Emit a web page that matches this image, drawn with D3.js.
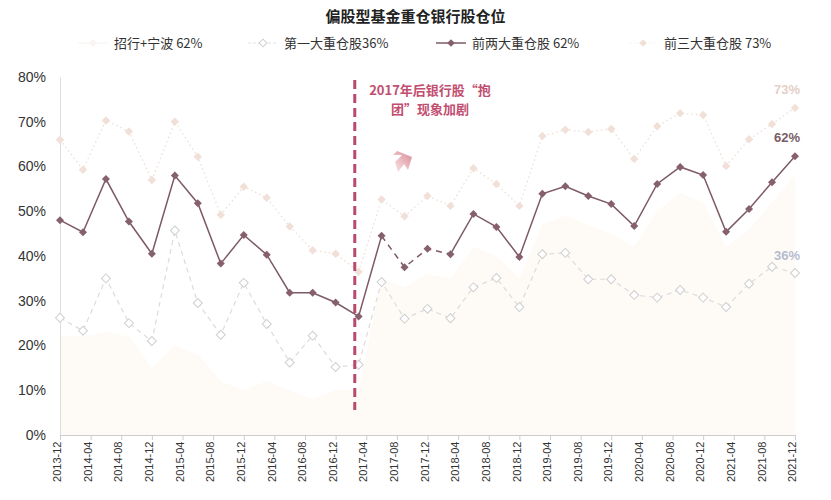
<!DOCTYPE html>
<html><head><meta charset="utf-8">
<script src="https://cdn.jsdelivr.net/npm/d3@7"></script>
<style>body{margin:0;background:#fff;font-family:"Noto Sans CJK SC","Liberation Sans",sans-serif}</style>
</head><body><svg id="chart" width="831" height="500"></svg>
<script>
// quarterly data, 2013-12 .. 2021-12
const months = d3.range(0, 97, 3);
const tickMonths = d3.range(0, 97, 4);
const cmbNingbo = [22,22,23,22,15,20,18,12,10,12,10,8,10,10,35,33,36,35,42,40,35,47,49,47,45,42,50,54,52,42,46,52,58];
const top1 = [26.2,23.3,35,25,21,45.7,29.5,22.4,34,24.8,16.2,22.2,15.2,15.7,34.2,26,28.2,26.1,33,35.1,28.6,40.4,40.7,34.8,34.8,31.3,30.7,32.4,30.7,28.6,33.8,37.6,36.2];
const top2 = [48,45.3,57.2,47.7,40.5,58,51.8,38.3,44.7,40.3,31.8,31.8,29.6,26.5,44.5,37.5,41.6,40.4,49.4,46.5,39.8,53.9,55.6,53.4,51.6,46.7,56.1,59.9,58.1,45.4,50.5,56.5,62.3];
const top3 = [66,59.3,70.3,67.8,57,70,62.2,49.2,55.5,53,46.6,41.3,40.5,36.5,52.6,48.9,53.4,51.2,59.6,56.1,51.2,66.8,68.2,67.7,68.4,61.7,69,71.9,71.5,60.1,66.1,69.5,73.1];
const legendNames = ['招行+宁波   62%', '第一大重仓股36%', '前两大重仓股 62%', '前三大重仓股 73%'];

const svg = d3.select('#chart');
const margin = {top: 77, left: 60, right: 36, bottom: 65};
const W = 831, H = 500;
const x = d3.scaleLinear().domain([0, 96]).range([margin.left, W - margin.right]);
const y = d3.scaleLinear().domain([0, 80]).range([H - margin.bottom, margin.top]);
const label = m => { const d = new Date(2013, 11 + m, 1); return d3.timeFormat('%Y-%m')(d); };
const data = months.map((m, i) => ({m, a: cmbNingbo[i], b: top1[i], c: top2[i], d: top3[i]}));

svg.append('text').attr('x', W / 2).attr('y', 22).attr('text-anchor', 'middle')
  .attr('font-size', 15).attr('font-weight', 'bold').attr('fill', '#222').text('偏股型基金重仓银行股仓位');

// area
svg.append('path').datum(data)
  .attr('d', d3.area().x(d => x(d.m)).y0(y(0)).y1(d => y(d.a)))
  .attr('fill', '#fefaf6');

// axes
const yAxis = svg.append('g').attr('transform', `translate(${margin.left},0)`)
  .call(d3.axisLeft(y).tickValues(d3.range(0, 81, 10)).tickFormat(d => d + '%').tickSize(0).tickPadding(14));
yAxis.select('.domain').attr('stroke', '#ddd');
yAxis.selectAll('text').attr('font-size', 14).attr('fill', '#333').attr('font-family', 'Liberation Sans');

const xAxis = svg.append('g').attr('transform', `translate(0,${y(0)})`)
  .call(d3.axisBottom(x).tickValues(tickMonths).tickFormat(label).tickSize(5));
xAxis.select('.domain').attr('stroke', '#ccc');
xAxis.selectAll('line').attr('stroke', '#ccc');
xAxis.selectAll('text').attr('font-size', 11).attr('fill', '#333').attr('font-family', 'Liberation Sans')
  .attr('transform', 'rotate(-90)').attr('text-anchor', 'end').attr('dx', '-0.6em').attr('dy', '-0.3em').attr('x', 0).attr('y', 4);

const line = key => d3.line().x(d => x(d.m)).y(d => y(d[key]));
const diamond = s => d3.symbol().type(d3.symbolSquare).size(s)();
const at = (d, key) => `translate(${x(d.m)},${y(d[key])}) rotate(45)`;

// top3
svg.append('path').datum(data).attr('d', line('d')).attr('fill', 'none')
  .attr('stroke', '#eedbd2').attr('stroke-width', 1.2).attr('stroke-dasharray', '1.5,3');
svg.selectAll('.p3').data(data).join('path').attr('d', diamond(36))
  .attr('transform', d => at(d, 'd')).attr('fill', '#f1e0d8');

// top1
svg.append('path').datum(data).attr('d', line('b')).attr('fill', 'none')
  .attr('stroke', '#dcdcdc').attr('stroke-width', 1.2).attr('stroke-dasharray', '5,4');
svg.selectAll('.p1').data(data).join('path').attr('d', diamond(40))
  .attr('transform', d => at(d, 'b')).attr('fill', '#fff').attr('stroke', '#cfcfcf');

// top2, dashed in the 2017 stretch
svg.append('path').datum(data.slice(0, 15)).attr('d', line('c')).attr('fill', 'none').attr('stroke', '#7d5a63').attr('stroke-width', 1.5);
svg.append('path').datum(data.slice(14, 18)).attr('d', line('c')).attr('fill', 'none').attr('stroke', '#7d5a63').attr('stroke-width', 1.5).attr('stroke-dasharray', '6,5');
svg.append('path').datum(data.slice(17)).attr('d', line('c')).attr('fill', 'none').attr('stroke', '#7d5a63').attr('stroke-width', 1.5);
svg.selectAll('.p2').data(data).join('path').attr('d', diamond(32))
  .attr('transform', d => at(d, 'c')).attr('fill', '#86606b');

// 2017 marker line
const xv = x(38.5);
svg.append('line').attr('x1', xv).attr('x2', xv).attr('y1', 80).attr('y2', 410)
  .attr('stroke', '#b84a6c').attr('stroke-width', 3).attr('stroke-dasharray', '9,5');
svg.append('text').attr('x', 430).attr('y', 95).attr('text-anchor', 'middle').attr('font-size', 13)
  .attr('font-weight', 'bold').attr('fill', '#c24e70').text('2017年后银行股“抱');
svg.append('text').attr('x', 430).attr('y', 114).attr('text-anchor', 'middle').attr('font-size', 13)
  .attr('font-weight', 'bold').attr('fill', '#c24e70').text('团”现象加剧');
const grad = svg.append('defs').append('linearGradient').attr('id', 'ag').attr('x1', 0).attr('y1', 1).attr('x2', 1).attr('y2', 0);
grad.append('stop').attr('offset', 0).attr('stop-color', '#fbeaea');
grad.append('stop').attr('offset', 1).attr('stop-color', '#d98a95');
svg.append('path').attr('d', 'M395,162 L402,155 L393,155 L397,151 L412,157 L408,170 L404,164 L398,172 Z')
  .attr('fill', 'url(#ag)');

// end labels
const last = data[data.length - 1];
[[last.d, '#e5cfc6', '73%', -14], [last.c, '#7a5c66', '62%', -14], [last.b, '#b7bcd0', '36%', -13]].forEach(([v, c, t, dy]) => {
  svg.append('text').attr('x', x(96) - 8).attr('y', y(v) + dy).attr('text-anchor', 'middle')
    .attr('font-size', 13).attr('font-weight', 'bold').attr('fill', c).attr('font-family', 'Liberation Sans').text(t);
});

// legend
const lg = svg.append('g').attr('transform', 'translate(0,43)');
const lx = [78, 248, 436, 628];
legendNames.forEach((n, i) => {
  const g = lg.append('g').attr('transform', `translate(${lx[i]},0)`);
  const styles = [
    {stroke: '#f5f3f1', dash: null, fill: '#f7f4f2', sw: 1},
    {stroke: '#e2e2e2', dash: '3,2', fill: '#fff', sw: 1},
    {stroke: '#7d5a63', dash: null, fill: '#86606b', sw: 1.5},
    {stroke: '#f5ece8', dash: '1,2', fill: '#f1e0d8', sw: 1}
  ][i];
  g.append('line').attr('x1', 0).attr('x2', 30).attr('stroke', styles.stroke).attr('stroke-width', styles.sw).attr('stroke-dasharray', styles.dash);
  g.append('path').attr('d', diamond(30)).attr('transform', 'translate(15,0) rotate(45)')
    .attr('fill', styles.fill).attr('stroke', i === 1 ? '#ccc' : 'none');
  g.append('text').attr('x', 36).attr('y', 5).attr('font-size', 13).attr('fill', '#333').text(n);
});
</script></body></html>
